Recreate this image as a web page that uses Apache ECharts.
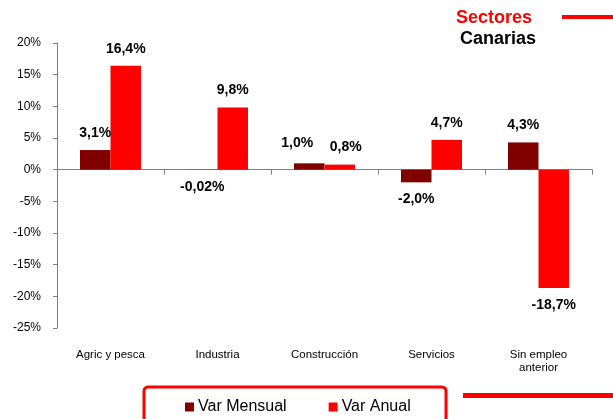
<!DOCTYPE html>
<html><head><meta charset="utf-8">
<script src="https://cdn.jsdelivr.net/npm/echarts@6/dist/echarts.min.js"></script>
<style>html,body{margin:0;padding:0;background:#fff}#c{width:613px;height:419px}</style>
</head><body><div id="c"></div>
<script>
const categories = ['Agric y pesca', 'Industria', 'Construcción', 'Servicios', 'Sin empleo\nanterior'];
const varMensual = [3.1, -0.02, 1.0, -2.0, 4.3];
const varAnual = [16.4, 9.8, 0.8, 4.7, -18.7];
const labelsMensual = ['3,1%', '-0,02%', '1,0%', '-2,0%', '4,3%'];
const labelsAnual = ['16,4%', '9,8%', '0,8%', '4,7%', '-18,7%'];
const seriesNames = ['Var Mensual', 'Var Anual'];

const FONT = 'Liberation Sans, Arial, sans-serif';
const chart = echarts.init(document.getElementById('c'), null, {renderer: 'canvas'});

// label nudges to avoid overlap (Construcción)
const offMensual = [[0,0],[0,0],[-12,-3],[0,0],[0,0]];
const offAnual = [[0,0],[0,0],[6,0],[0,0],[0,0]];

function mkData(vals, labels, offs) {
  return vals.map((v, i) => ({
    value: v,
    label: {position: v < 0 ? 'bottom' : 'top', formatter: labels[i], offset: offs[i]}
  }));
}
const lbl = {show: true, color: '#000', fontWeight: 'bold', fontSize: 14, fontFamily: FONT, distance: 10};

chart.setOption({
  animation: false,
  textStyle: {fontFamily: FONT},
  grid: {left: 57, right: 21, top: 43, bottom: 91},
  xAxis: [{
    type: 'category', data: categories,
    axisLine: {onZero: true, lineStyle: {color: '#808080', width: 1}},
    axisTick: {show: true, length: 5, lineStyle: {color: '#808080'}},
    axisLabel: {show: false}
  }, {
    type: 'category', data: categories, position: 'bottom',
    axisLine: {show: false}, axisTick: {show: false},
    axisLabel: {show: true, color: '#000', fontSize: 11.5, fontFamily: FONT, margin: 20, lineHeight: 13}
  }],
  yAxis: {
    type: 'value', min: -25, max: 20, interval: 5,
    axisLine: {show: true, lineStyle: {color: '#808080'}},
    axisTick: {show: true, length: 4, lineStyle: {color: '#808080'}},
    axisLabel: {formatter: v => v + '%', color: '#000', fontSize: 12, fontFamily: FONT, margin: 16},
    splitLine: {show: false}
  },
  legend: {
    data: seriesNames, left: 180, top: 394, itemWidth: 9, itemHeight: 9, itemGap: 42,
    textStyle: {fontSize: 16, color: '#000', fontFamily: FONT, padding: [0, 0, 0, -1]},
    icon: 'rect'
  },
  graphic: [
    {type: 'rect', shape: {x: 144, y: 387, width: 302, height: 45, r: 4}, style: {fill: 'none', stroke: '#ff0000', lineWidth: 3}},
    {type: 'rect', shape: {x: 463, y: 393, width: 150, height: 5}, style: {fill: '#ff0000'}},
    {type: 'rect', shape: {x: 562, y: 15, width: 51, height: 4}, style: {fill: '#ff0000'}},
    {type: 'text', left: 456, top: 9, style: {text: 'Sectores', fill: '#ff0000', font: 'bold 18px ' + FONT}},
    {type: 'text', left: 460, top: 30, style: {text: 'Canarias', fill: '#000', font: 'bold 18px ' + FONT}}
  ],
  series: [
    {name: seriesNames[0], type: 'bar', data: mkData(varMensual, labelsMensual, offMensual), itemStyle: {color: '#800000'},
     barGap: '0%', barCategoryGap: '43%', label: lbl},
    {name: seriesNames[1], type: 'bar', data: mkData(varAnual, labelsAnual, offAnual), itemStyle: {color: '#ff0000'},
     barGap: '0%', barCategoryGap: '43%', label: lbl}
  ]
});
</script></body></html>
